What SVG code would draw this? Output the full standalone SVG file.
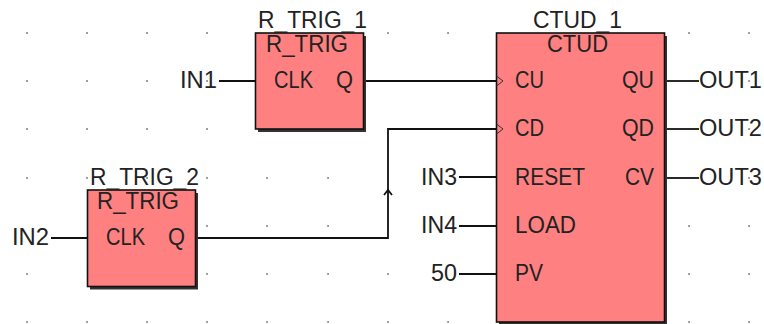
<svg xmlns="http://www.w3.org/2000/svg" width="764" height="324" viewBox="0 0 764 324">
<style>
text{font-family:"Liberation Sans",Arial,sans-serif;font-size:23.5px;fill:#222}
.box{fill:#ff8080;stroke:#111;stroke-width:1.6}
.shadow{fill:#333}
.wire{fill:none;stroke:#111;stroke-width:1.8}
.pin{fill:none;stroke:#333;stroke-width:1}
#grid{fill:none;stroke:#333;stroke-width:1.6;stroke-linecap:round}
</style>
<path id="grid" d="M27 33h.1M87 33h.1M147 33h.1M207 33h.1M388 33h.1M448 33h.1M689 33h.1M749 33h.1M27 81h.1M87 81h.1M147 81h.1M207 81h.1M749 81h.1M27 129h.1M87 129h.1M147 129h.1M207 129h.1M749 129h.1M27 178h.1M87 178h.1M147 178h.1M207 178h.1M267 178h.1M328 178h.1M749 178h.1M207 226h.1M267 226h.1M328 226h.1M689 226h.1M749 226h.1M27 274h.1M207 274h.1M267 274h.1M328 274h.1M388 274h.1M689 274h.1M749 274h.1M27 322h.1M87 322h.1M147 322h.1M207 322h.1M267 322h.1M328 322h.1M388 322h.1M448 322h.1M689 322h.1M749 322h.1"/>
<g id="connectors">
<path class="wire" d="M219 81H255"/>
<path class="wire" d="M365 81H496"/>
<path class="wire" d="M51 238H87"/>
<path class="wire" d="M197 238H388V129H496"/>
<path class="wire" d="M384 195L388 190L392 195" stroke-width="1"/>
<path class="wire" d="M459 177H496"/>
<path class="wire" d="M459 226H496"/>
<path class="wire" d="M459 274H496"/>
<path class="wire" d="M667 81H699"/>
<path class="wire" d="M667 129H699"/>
<path class="wire" d="M667 178H699"/>
</g>
<g id="r_trig_1">
<rect class="shadow" x="258" y="36" width="108" height="96"/>
<rect class="box" x="255.500" y="33" width="108" height="96"/>
<text x="258" y="28" textLength="109" lengthAdjust="spacingAndGlyphs">R_TRIG_1</text>
<text x="266" y="52" textLength="82" lengthAdjust="spacingAndGlyphs">R_TRIG</text>
<text x="274" y="88" textLength="39" lengthAdjust="spacingAndGlyphs">CLK</text>
<text x="336" y="88" textLength="17" lengthAdjust="spacingAndGlyphs">Q</text>
<text x="180" y="88" textLength="37" lengthAdjust="spacingAndGlyphs">IN1</text>
</g>
<g id="r_trig_2">
<rect class="shadow" x="90" y="193" width="108" height="96.500"/>
<rect class="box" x="87.500" y="190" width="108" height="96.500"/>
<text x="90" y="185" textLength="109" lengthAdjust="spacingAndGlyphs">R_TRIG_2</text>
<text x="97" y="209" textLength="82" lengthAdjust="spacingAndGlyphs">R_TRIG</text>
<text x="106" y="245" textLength="39" lengthAdjust="spacingAndGlyphs">CLK</text>
<text x="168" y="245" textLength="17" lengthAdjust="spacingAndGlyphs">Q</text>
<text x="12" y="245" textLength="37" lengthAdjust="spacingAndGlyphs">IN2</text>
</g>
<g id="ctud_1">
<rect class="shadow" x="499" y="36" width="168" height="289"/>
<rect class="box" x="496.500" y="33" width="168" height="289"/>
<path class="pin" d="M496.500 76L503 81L496.500 86"/>
<path class="pin" d="M496.500 124L503 129L496.500 134"/>
<text x="533" y="28" textLength="89" lengthAdjust="spacingAndGlyphs">CTUD_1</text>
<text x="547" y="52" textLength="61" lengthAdjust="spacingAndGlyphs">CTUD</text>
<text x="515" y="88" textLength="29" lengthAdjust="spacingAndGlyphs">CU</text>
<text x="515" y="136" textLength="29" lengthAdjust="spacingAndGlyphs">CD</text>
<text x="515" y="185" textLength="70" lengthAdjust="spacingAndGlyphs">RESET</text>
<text x="515" y="233" textLength="61" lengthAdjust="spacingAndGlyphs">LOAD</text>
<text x="515" y="281" textLength="28" lengthAdjust="spacingAndGlyphs">PV</text>
<text x="622" y="88" textLength="32" lengthAdjust="spacingAndGlyphs">QU</text>
<text x="622" y="136" textLength="32" lengthAdjust="spacingAndGlyphs">QD</text>
<text x="625" y="185" textLength="29" lengthAdjust="spacingAndGlyphs">CV</text>
<text x="421" y="185" textLength="36" lengthAdjust="spacingAndGlyphs">IN3</text>
<text x="421" y="233" textLength="36" lengthAdjust="spacingAndGlyphs">IN4</text>
<text x="431" y="281" textLength="26" lengthAdjust="spacingAndGlyphs">50</text>
<text x="699" y="88" textLength="63" lengthAdjust="spacingAndGlyphs">OUT1</text>
<text x="699" y="136" textLength="63" lengthAdjust="spacingAndGlyphs">OUT2</text>
<text x="699" y="185" textLength="63" lengthAdjust="spacingAndGlyphs">OUT3</text>
</g>
</svg>
